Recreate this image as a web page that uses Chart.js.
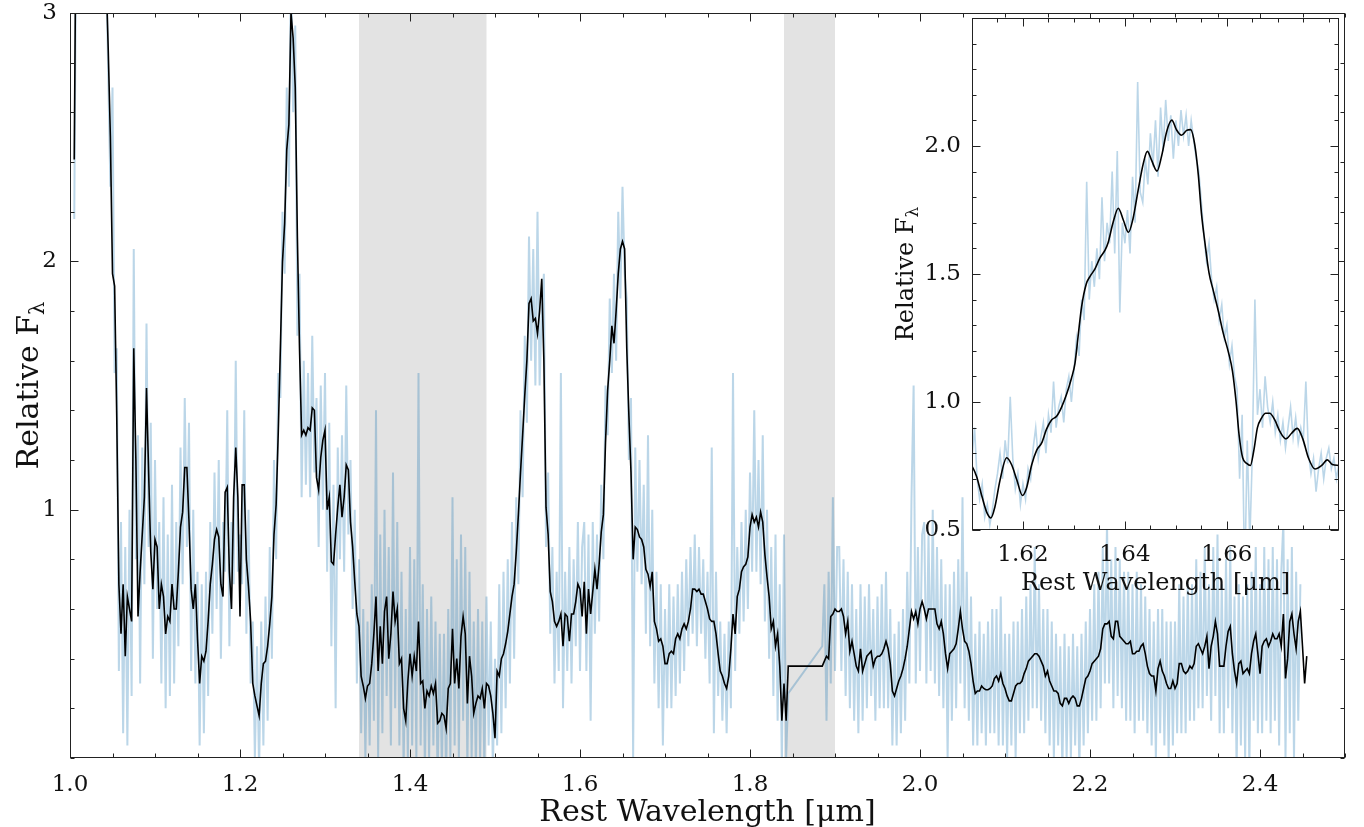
<!DOCTYPE html>
<html>
<head>
<meta charset="utf-8">
<script src="https://cdn.jsdelivr.net/npm/chart.js@4.4.1/dist/chart.umd.min.js"></script>
<style>
  body { margin: 0; background: #fff; }
  #wrap { position: relative; width: 1364px; height: 827px; }
  #wrap canvas { position: absolute; left: 0; top: 0; }
</style>
</head>
<body>
<div id="wrap">
  <canvas id="mainChart" width="1364" height="827"></canvas>
  <canvas id="insetChart" width="1364" height="827"></canvas>
</div>
<script>
// spectrum sampled on a regular wavelength grid (micron)
const waveStart = 1.005;
const waveStep = 0.0025;

// smoothed spectrum (black), one row = 0.05 micron
const smoothFlux = [
  2.41, 3.6, 4.0, 4.2, 4.3, 4.4, 4.4, 4.3, 4.2, 4.1, 4.0, 3.9, 3.8, 3.6, 3.4, 3.15, 2.85, 2.5, 1.95, 1.9,
  1.37, 0.7, 0.5, 0.7, 0.41, 0.65, 0.6, 0.55, 1.65, 1.2, 0.57, 0.75, 0.9, 1.05, 1.49, 1.15, 0.83, 0.68, 0.88, 0.85,
  0.6, 0.7, 0.65, 0.5, 0.57, 0.55, 0.7, 0.6, 0.6, 0.75, 0.93, 0.99, 1.17, 1.17, 0.95, 0.68, 0.6, 0.7, 0.48, 0.3,
  0.41, 0.39, 0.43, 0.55, 0.7, 0.78, 0.88, 0.92, 0.89, 0.7, 0.65, 1.07, 1.09, 0.75, 0.6, 1.05, 1.25, 1.05, 0.57, 1.1,
  1.1, 0.8, 0.69, 0.55, 0.3, 0.25, 0.21, 0.17, 0.3, 0.38, 0.39, 0.45, 0.54, 0.65, 0.9, 1.02, 1.31, 1.65, 2.0, 2.15,
  2.45, 2.55, 3.0, 2.9, 2.7, 2.1, 1.65, 1.3, 1.32, 1.3, 1.33, 1.32, 1.41, 1.4, 1.13, 1.08, 1.21, 1.28, 1.32, 1.0,
  1.05, 0.79, 0.78, 0.9, 1.01, 1.1, 0.97, 1.05, 1.18, 1.16, 0.95, 0.85, 0.71, 0.58, 0.53, 0.33, 0.29, 0.24, 0.29, 0.3,
  0.38, 0.5, 0.65, 0.35, 0.53, 0.38, 0.59, 0.65, 0.4, 0.5, 0.67, 0.55, 0.6, 0.38, 0.4, 0.2, 0.15, 0.31, 0.42, 0.33,
  0.41, 0.35, 0.55, 0.3, 0.31, 0.2, 0.27, 0.25, 0.29, 0.26, 0.3, 0.14, 0.15, 0.18, 0.17, 0.12, 0.28, 0.3, 0.52, 0.3,
  0.4, 0.28, 0.49, 0.57, 0.5, 0.22, 0.41, 0.33, 0.18, 0.22, 0.25, 0.24, 0.28, 0.2, 0.3, 0.29, 0.25, 0.18, 0.08, 0.35,
  0.33, 0.4, 0.42, 0.46, 0.51, 0.58, 0.65, 0.7, 0.83, 0.98, 1.15, 1.3, 1.46, 1.6, 1.83, 1.85, 1.76, 1.77, 1.71, 1.8,
  1.93, 1.6, 1.01, 0.9, 0.67, 0.63, 0.55, 0.53, 0.55, 0.58, 0.45, 0.58, 0.57, 0.47, 0.58, 0.58, 0.63, 0.7, 0.68, 0.57,
  0.71, 0.5, 0.68, 0.58, 0.67, 0.76, 0.68, 0.78, 0.91, 0.98, 1.27, 1.48, 1.6, 1.74, 1.67, 1.8, 1.95, 2.05, 2.08, 2.05,
  1.65, 1.38, 1.15, 0.8, 0.93, 0.92, 0.89, 0.88, 0.85, 0.76, 0.74, 0.69, 0.75, 0.55, 0.52, 0.47, 0.48, 0.45, 0.38, 0.38,
  0.42, 0.43, 0.42, 0.48, 0.5, 0.48, 0.52, 0.54, 0.52, 0.55, 0.6, 0.68, 0.68, 0.67, 0.68, 0.66, 0.66, 0.63, 0.6, 0.56,
  0.55, 0.55, 0.5, 0.42, 0.35, 0.33, 0.3, 0.28, 0.33, 0.44, 0.58, 0.5, 0.65, 0.68, 0.75, 0.77, 0.78, 0.81, 0.93, 0.98,
  0.95, 0.97, 0.93, 0.99, 0.95, 0.82, 0.73, 0.65, 0.52, 0.55, 0.45, 0.5, 0.37, 0.15, 0.3, 0.15, 0.37, null, null, null,
  null, null, null, null, null, null, null, null, null, null, null, null, 0.37, 0.39, 0.41, 0.4, 0.57, 0.58, 0.6, 0.59,
  0.59, 0.6, 0.57, 0.5, 0.55, 0.43, 0.47, 0.42, 0.37, 0.35, 0.44, 0.35, 0.38, 0.41, 0.42, 0.43, 0.37, 0.4, 0.41, 0.41,
  0.42, 0.44, 0.47, 0.44, 0.38, 0.27, 0.25, 0.28, 0.31, 0.33, 0.36, 0.4, 0.45, 0.52, 0.59, 0.56, 0.59, 0.54, 0.6, 0.63,
  0.6, 0.56, 0.6, 0.6, 0.6, 0.6, 0.54, 0.52, 0.55, 0.5, 0.42, 0.36, 0.42, 0.43, 0.44, 0.46, 0.52, 0.59, 0.52, 0.47,
  0.46, 0.43, 0.38, 0.31, 0.26, 0.27, 0.27, 0.29, 0.28, 0.275, 0.275, 0.28, 0.29, 0.32, 0.33, 0.31, 0.34, 0.3, 0.28, 0.25,
  0.23, 0.23, 0.26, 0.29, 0.3, 0.3, 0.31, 0.34, 0.36, 0.39, 0.4, 0.41, 0.42, 0.42, 0.41, 0.39, 0.37, 0.33, 0.35, 0.31,
  0.29, 0.27, 0.27, 0.26, 0.22, 0.21, 0.24, 0.24, 0.22, 0.24, 0.25, 0.24, 0.21, 0.21, 0.24, 0.28, 0.32, 0.33, 0.35, 0.38,
  0.39, 0.4, 0.41, 0.44, 0.52, 0.54, 0.54, 0.55, 0.49, 0.48, 0.55, 0.55, 0.49, 0.48, 0.47, 0.46, 0.46, 0.47, 0.42, 0.42,
  0.43, 0.43, 0.45, 0.46, 0.42, 0.37, 0.34, 0.33, 0.33, 0.27, 0.36, 0.39, 0.35, 0.33, 0.3, 0.28, 0.28, 0.31, 0.28, 0.3,
  0.38, 0.38, 0.35, 0.34, 0.35, 0.37, 0.36, 0.38, 0.45, 0.46, 0.44, 0.42, 0.45, 0.49, 0.36, 0.45, 0.49, 0.55, 0.5, 0.37,
  0.37, 0.37, 0.45, 0.51, 0.53, 0.42, 0.35, 0.3, 0.38, 0.39, 0.34, 0.35, 0.36, 0.34, 0.42, 0.47, 0.5, 0.42, 0.34, 0.45,
  0.47, 0.48, 0.45, 0.47, 0.5, 0.48, 0.48, 0.5, 0.45, 0.58, 0.32, 0.4, 0.55, 0.58, 0.5, 0.44, 0.55, 0.59, 0.45, 0.3, 0.41
];

// observed spectrum (light blue), same grid
const rawFlux = [
  2.17, 3.5, 4.0, 4.3, 4.1, 4.4, 4.2, 4.5, 4.3, 4.2, 4.4, 4.0, 4.1, 3.8, 3.6, 3.2, 2.75, 2.3, 2.7, 1.55,
  1.65, 0.35, 0.95, 0.1, 0.85, 0.05, 1.0, 0.25, 2.05, 0.8, 1.3, 0.3, 1.25, 0.7, 1.75, 0.85, 1.35, 0.4, 1.2, 0.6,
  0.95, 0.3, 1.05, 0.2, 0.9, 0.25, 1.1, 0.3, 0.95, 0.45, 1.25, 0.7, 1.45, 0.85, 1.35, 0.35, 1.0, 0.3, 0.75, 0.05,
  0.7, 0.1, 0.75, 0.25, 0.95, 0.5, 1.15, 0.6, 1.2, 0.4, 0.95, 0.75, 1.4, 0.45, 0.95, 0.7, 1.6, 0.75, 0.9, 0.7,
  1.4, 0.5, 1.0, 0.3, 0.55, 0.0, 0.45, -0.05, 0.55, 0.05, 0.65, 0.15, 0.85, 0.4, 1.2, 0.8, 1.55, 1.45, 2.2, 1.95,
  2.7, 2.3, 3.2, 2.6, 2.95, 1.7, 1.95, 1.05, 1.6, 1.1, 1.55, 1.05, 1.7, 1.15, 1.45, 0.85, 1.5, 1.0, 1.55, 0.75,
  1.35, 0.45, 1.1, 0.2, 1.25, 0.8, 1.3, 0.75, 1.5, 0.9, 1.2, 0.6, 1.0, 0.3, 0.8, 0.1, 0.6, 0.0, 0.55, 0.05,
  0.7, 0.15, 1.4, 0.0, 0.9, 0.1, 1.0, 0.25, 0.85, 0.05, 1.15, 0.2, 0.95, 0.05, 0.75, -0.05, 0.6, 0.0, 0.85, 0.05,
  0.8, 0.0, 1.55, 0.05, 0.7, -0.05, 0.6, 0.0, 0.65, 0.05, 0.55, -0.1, 0.5, -0.05, 0.5, -0.1, 0.6, 0.0, 1.05, 0.05,
  0.8, 0.0, 0.9, 0.15, 0.85, -0.05, 0.75, 0.0, 0.55, -0.05, 0.6, 0.0, 0.55, -0.05, 0.65, 0.05, 0.55, -0.05, 0.4, 0.05,
  0.7, 0.1, 0.75, 0.2, 0.8, 0.3, 0.95, 0.4, 1.05, 0.7, 1.4, 1.05, 1.7, 1.35, 2.1, 1.6, 2.05, 1.5, 2.2, 1.5,
  1.8, 1.95, 0.85, 1.15, 0.5, 0.85, 0.3, 0.75, 0.35, 1.55, 0.2, 0.75, 0.35, 0.85, 0.3, 0.8, 0.45, 0.95, 0.35, 0.85,
  0.95, 0.35, 0.9, 0.15, 0.95, 0.5, 0.9, 0.55, 1.1, 0.8, 1.5, 1.3, 1.85, 1.55, 1.95, 1.6, 2.2, 1.85, 2.3, 1.95,
  1.85, 1.2, 1.45, 0.0, 1.25, 0.75, 1.2, 0.7, 1.1, 0.5, 1.3, 0.45, 1.0, 0.3, 0.75, 0.2, 0.7, 0.05, 0.6, 0.2,
  0.7, 0.2, 0.65, 0.25, 0.7, 0.3, 0.75, 0.35, 0.8, 0.45, 0.85, 0.5, 0.9, 0.45, 0.85, 0.5, 0.8, 0.4, 0.75, 0.3,
  1.25, 0.1, 0.75, 0.25, 0.55, 0.15, 0.5, 0.1, 0.55, 0.2, 1.55, 0.35, 0.85, 0.5, 0.95, 0.55, 1.0, 0.6, 1.15, 0.75,
  1.4, 0.75, 1.2, 0.7, 1.3, 0.55, 1.0, 0.4, 0.85, 0.25, 0.9, 0.15, 0.7, -0.05, 0.9, 0.0, 0.26, null, null, null,
  null, null, null, null, null, null, null, null, null, null, null, null, 0.45, 0.7, 0.15, 0.75, 0.3, 1.05, 0.35, 0.85,
  0.85, 0.35, 0.8, 0.25, 0.75, 0.2, 0.7, 0.15, 0.6, 0.1, 0.7, 0.15, 0.65, 0.2, 0.7, 0.25, 0.6, 0.15, 0.65, 0.2,
  0.7, 0.2, 0.75, 0.2, 0.6, 0.05, 0.5, 0.05, 0.55, 0.1, 0.6, 0.15, 0.75, 0.3, 1.05, 1.5, 0.3, 0.85, 0.35, 0.9,
  0.95, 0.3, 0.9, 0.35, 1.0, 0.3, 0.85, 0.25, 0.8, 0.2, 0.7, 0.0, 0.7, 0.15, 0.75, 0.2, 0.8, 0.3, 1.05, 0.2,
  0.75, 0.15, 0.65, 0.05, 0.5, 0.05, 0.55, 0.1, 0.5, 0.05, 0.55, 0.1, 0.6, 0.1, 0.6, 0.05, 0.65, 0.05, 0.5, 0.0,
  0.5, 0.05, 0.55, 0.0, 0.55, 0.1, 0.6, 0.1, 0.65, 0.15, 0.7, 0.2, 0.85, 0.2, 0.7, 0.15, 0.6, 0.1, 0.6, 0.05,
  0.55, 0.0, 0.5, 0.05, 0.45, -0.05, 0.5, 0.0, 0.45, 0.0, 0.5, 0.05, 0.45, -0.05, 0.5, 0.05, 0.55, 0.1, 0.6, 0.15,
  0.7, 0.15, 0.75, 0.2, 0.85, 0.3, 0.95, 0.3, 0.8, 0.2, 0.85, 0.25, 0.8, 0.2, 0.75, 0.15, 0.75, 0.15, 0.7, 0.1,
  0.75, 0.15, 0.7, 0.15, 0.65, 0.1, 0.6, 0.05, 0.55, 0.0, 0.6, 0.1, 0.6, 0.05, 0.55, 0.0, 0.55, 0.05, 0.55, 0.1,
  0.7, 0.1, 0.65, 0.1, 0.7, 0.15, 0.7, 0.15, 0.8, 0.2, 0.75, 0.2, 0.85, 0.25, 0.7, 0.15, 0.85, 0.25, 0.9, 0.1,
  0.7, 0.1, 0.8, 0.2, 0.85, 0.1, 0.65, -0.05, 0.7, 0.05, 0.65, 0.0, 0.7, -0.05, 0.75, 0.15, 0.85, 0.1, 0.7, 0.1,
  0.85, 0.15, 0.8, 0.1, 0.85, 0.15, 0.8, 0.05, 0.75, 0.95, 0.0, 0.8, 0.1, 0.85, 0.0, 0.75, 0.15, 0.7, null, null, null
];

// inset: smoothed curve around the 1.64 micron feature
const insetWave = [
  1.6095, 1.6101, 1.6109, 1.6119, 1.6129, 1.6137, 1.6145, 1.6155, 1.6168, 1.6178, 1.6188, 1.6199, 1.6207, 1.6217,
  1.6227, 1.6237, 1.6246, 1.6256, 1.6266, 1.6276, 1.6286, 1.6295, 1.6302, 1.6308, 1.6315, 1.6324, 1.6331, 1.6341,
  1.6351, 1.6361, 1.6367, 1.6377, 1.6387, 1.6397, 1.6407, 1.6416, 1.6426, 1.6436, 1.6444, 1.6452, 1.6463, 1.6472,
  1.6482, 1.6492, 1.6501, 1.6511, 1.6521, 1.6529, 1.6537, 1.6544, 1.6550, 1.6557, 1.6565, 1.6573, 1.6583, 1.6593,
  1.6603, 1.6611, 1.6618, 1.6624, 1.6631, 1.6639, 1.6646, 1.6653, 1.6660, 1.6668, 1.6676, 1.6684, 1.6694, 1.6704,
  1.6716, 1.6727, 1.6738, 1.6749, 1.6760, 1.6773, 1.6786, 1.6797, 1.6807, 1.6820
];
const insetSmooth = [
  0.76, 0.746, 0.709, 0.635, 0.569, 0.547, 0.591, 0.695, 0.782, 0.754, 0.695, 0.635, 0.664, 0.754,
  0.812, 0.841, 0.893, 0.930, 0.944, 0.981, 1.033, 1.092, 1.151, 1.254, 1.372, 1.460, 1.489, 1.519,
  1.563, 1.593, 1.622, 1.703, 1.757, 1.710, 1.663, 1.717, 1.828, 1.931, 1.979, 1.946, 1.902, 1.961,
  2.057, 2.101, 2.064, 2.042, 2.061, 2.064, 2.005, 1.887, 1.740, 1.622, 1.504, 1.438, 1.357, 1.268,
  1.195, 1.121, 1.003, 0.871, 0.782, 0.760, 0.752, 0.812, 0.900, 0.937, 0.956, 0.956, 0.930, 0.885,
  0.856, 0.878, 0.897, 0.856, 0.782, 0.738, 0.752, 0.774, 0.756, 0.752
];

// inset: observed spectrum, regular grid
const insetRawStart = 1.61;
const insetRawStep = 0.0005;
const insetRaw = [
  0.78, 0.90, 0.70, 0.62, 0.68, 0.55, 0.60, 0.52, 0.58, 0.66,
  0.72, 0.80, 0.70, 0.85, 0.76, 1.02, 0.78, 0.66, 0.72, 0.60,
  0.68, 0.62, 0.74, 0.70, 0.82, 0.90, 0.78, 0.86, 0.92, 0.80,
  0.95, 0.88, 1.08, 0.90, 0.98, 1.02, 0.92, 1.05, 1.10, 1.00,
  1.12, 1.25, 1.18, 1.40, 1.32, 1.86, 1.40, 1.55, 1.45, 1.60,
  1.48, 1.80, 1.55, 1.70, 1.62, 1.90, 1.58, 1.98, 1.35, 1.70,
  1.62, 1.75, 1.58, 1.88, 1.70, 2.25, 1.82, 1.78, 1.95, 1.85,
  2.05, 1.92, 2.10, 1.88, 2.15, 1.98, 2.18, 2.02, 2.12, 1.95,
  2.10, 2.00, 2.14, 2.04, 2.12, 2.00, 2.10, 2.02, 1.95, 1.90,
  1.78, 1.65, 1.55, 1.62, 1.48, 1.40, 1.45, 1.32, 1.38, 1.25,
  1.30, 1.15, 1.22, 1.10, 1.05, 0.70, 0.95, 0.30, 0.85, 0.45,
  0.80, 1.40, 0.95, 1.05, 0.90, 1.10, 0.98, 0.92, 1.00, 0.88,
  0.95, 0.85, 0.92, 0.82, 0.90, 0.98, 0.86, 0.94, 0.84, 0.90,
  0.85, 1.08, 0.80, 0.72, 0.78, 0.65, 0.74, 0.80, 0.70, 0.78,
  0.82, 0.74, 0.78, 0.70, 0.76
];

// masked (telluric) wavelength ranges
const maskedRanges = [[1.34, 1.49], [1.84, 1.90]];

// tick labels
const mainXTicks = [1.0, 1.2, 1.4, 1.6, 1.8, 2.0, 2.2, 2.4];
const mainYTicks = [1, 2, 3];
const insetXTicks = [1.62, 1.64, 1.66];
const insetYTicks = [0.5, 1.0, 1.5, 2.0];

const FONT = '"DejaVu Serif", "Liberation Serif", serif';
const rawColor = 'rgba(31, 119, 180, 0.3)';

function onGrid(values, start, step) {
  return values.map((v, i) => ({ x: start + i * step, y: v }));
}

function minorValues(min, max, step) {
  const out = [];
  for (let k = Math.ceil(min / step - 1e-9); k * step <= max + 1e-9; k++) out.push(k * step);
  return out;
}

// matplotlib-like axes: frame, inward ticks on all sides, labels, titles, shaded bands
const axesDecor = {
  id: 'axesDecor',
  beforeDatasetsDraw(chart, args, o) {
    const { ctx, chartArea: a, scales: { x } } = chart;
    ctx.save();
    if (o.whiteBg) {
      ctx.fillStyle = '#fff';
      ctx.fillRect(a.left, a.top, a.right - a.left, a.bottom - a.top);
    }
    ctx.fillStyle = 'rgba(128, 128, 128, 0.22)';
    (o.bands || []).forEach(([lo, hi]) => {
      const p0 = x.getPixelForValue(lo), p1 = x.getPixelForValue(hi);
      ctx.fillRect(p0, a.top, p1 - p0, a.bottom - a.top);
    });
    ctx.restore();
  },
  afterDatasetsDraw(chart, args, o) {
    const { ctx, chartArea: a, scales: { x, y } } = chart;
    ctx.save();
    ctx.strokeStyle = '#222';
    ctx.lineWidth = 1;
    const L = Math.round(a.left) + 0.5, R = Math.round(a.right) - 0.5;
    const T = Math.round(a.top) + 0.5, B = Math.round(a.bottom) - 0.5;
    ctx.strokeRect(L, T, R - L, B - T);

    ctx.beginPath();
    const xt = (vals, len) => vals.forEach(v => {
      const p = Math.round(x.getPixelForValue(v)) + 0.5;
      ctx.moveTo(p, B); ctx.lineTo(p, B - len);
      ctx.moveTo(p, T); ctx.lineTo(p, T + len);
    });
    const yt = (vals, len) => vals.forEach(v => {
      const p = Math.round(y.getPixelForValue(v)) + 0.5;
      ctx.moveTo(L, p); ctx.lineTo(L + len, p);
      ctx.moveTo(R, p); ctx.lineTo(R - len, p);
    });
    xt(minorValues(x.min, x.max, o.xMinor), 4);
    yt(minorValues(y.min, y.max, o.yMinor), 4);
    xt(o.xTicks, 8);
    yt(o.yTicks, 8);
    ctx.stroke();

    ctx.fillStyle = '#111';
    ctx.font = o.tickSize + 'px ' + FONT;
    ctx.textAlign = 'center';
    ctx.textBaseline = 'alphabetic';
    o.xTicks.forEach(v => ctx.fillText(v.toFixed(o.xDigits), x.getPixelForValue(v), o.xLabelY));
    ctx.textAlign = 'right';
    ctx.textBaseline = 'middle';
    o.yTicks.forEach(v => ctx.fillText(v.toFixed(o.yDigits), a.left - o.yLabelGap, y.getPixelForValue(v)));

    // x title
    ctx.font = o.titleSize + 'px ' + FONT;
    ctx.textAlign = 'center';
    ctx.textBaseline = 'alphabetic';
    ctx.fillText('Rest Wavelength [\u03bcm]', (a.left + a.right) / 2, o.xTitleY);

    // y title with subscript lambda
    const main = 'Relative F', sub = '\u03bb';
    const subSize = Math.round(o.yTitleSize * 0.7);
    ctx.font = o.yTitleSize + 'px ' + FONT;
    const wMain = ctx.measureText(main).width;
    ctx.font = subSize + 'px ' + FONT;
    const wSub = ctx.measureText(sub).width;
    ctx.translate(o.yTitleX, (a.top + a.bottom) / 2);
    ctx.rotate(-Math.PI / 2);
    ctx.textAlign = 'left';
    const s0 = -(wMain + wSub) / 2;
    ctx.font = o.yTitleSize + 'px ' + FONT;
    ctx.fillText(main, s0, 0);
    ctx.font = subSize + 'px ' + FONT;
    ctx.fillText(sub, s0 + wMain, o.yTitleSize * 0.2);
    ctx.restore();
  }
};

const common = {
  responsive: false,
  animation: false,
  events: [],
  devicePixelRatio: 1
};

new Chart(document.getElementById('mainChart'), {
  type: 'line',
  data: {
    datasets: [
      {
        label: 'smoothed',
        data: onGrid(smoothFlux, waveStart, waveStep),
        borderColor: '#000',
        borderWidth: 1.6,
        pointRadius: 0,
        spanGaps: true,
        order: 0
      },
      {
        label: 'observed',
        data: onGrid(rawFlux, waveStart, waveStep),
        borderColor: rawColor,
        borderWidth: 2,
        pointRadius: 0,
        spanGaps: true,
        order: 1
      }
    ]
  },
  options: {
    ...common,
    layout: { padding: { left: 70, top: 13, right: 19, bottom: 69 } },
    scales: {
      x: { type: 'linear', min: 1.0, max: 2.5, display: false },
      y: { type: 'linear', min: 0, max: 3, display: false }
    },
    plugins: {
      legend: { display: false },
      tooltip: { enabled: false },
      axesDecor: {
        bands: maskedRanges,
        xTicks: mainXTicks, yTicks: mainYTicks,
        xMinor: 0.05, yMinor: 0.2,
        xDigits: 1, yDigits: 0,
        tickSize: 23, xLabelY: 791, yLabelGap: 13,
        titleSize: 30, xTitleY: 821,
        yTitleSize: 30, yTitleX: 38
      }
    }
  },
  plugins: [axesDecor]
});

new Chart(document.getElementById('insetChart'), {
  type: 'line',
  data: {
    datasets: [
      {
        label: 'smoothed',
        data: insetWave.map((w, i) => ({ x: w, y: insetSmooth[i] })),
        borderColor: '#000',
        borderWidth: 1.6,
        pointRadius: 0,
        cubicInterpolationMode: 'monotone',
        order: 0
      },
      {
        label: 'observed',
        data: onGrid(insetRaw, insetRawStart, insetRawStep),
        borderColor: rawColor,
        borderWidth: 1.6,
        pointRadius: 0,
        order: 1
      }
    ]
  },
  options: {
    ...common,
    layout: { padding: { left: 972, top: 18, right: 25, bottom: 297 } },
    scales: {
      x: { type: 'linear', min: 1.61, max: 1.682, display: false },
      y: { type: 'linear', min: 0.5, max: 2.5, display: false }
    },
    plugins: {
      legend: { display: false },
      tooltip: { enabled: false },
      axesDecor: {
        whiteBg: true,
        xTicks: insetXTicks, yTicks: insetYTicks,
        xMinor: 0.005, yMinor: 0.1,
        xDigits: 2, yDigits: 1,
        tickSize: 23, xLabelY: 561, yLabelGap: 11,
        titleSize: 24, xTitleY: 590,
        yTitleSize: 24, yTitleX: 913
      }
    }
  },
  plugins: [axesDecor]
});
</script>
</body>
</html>
